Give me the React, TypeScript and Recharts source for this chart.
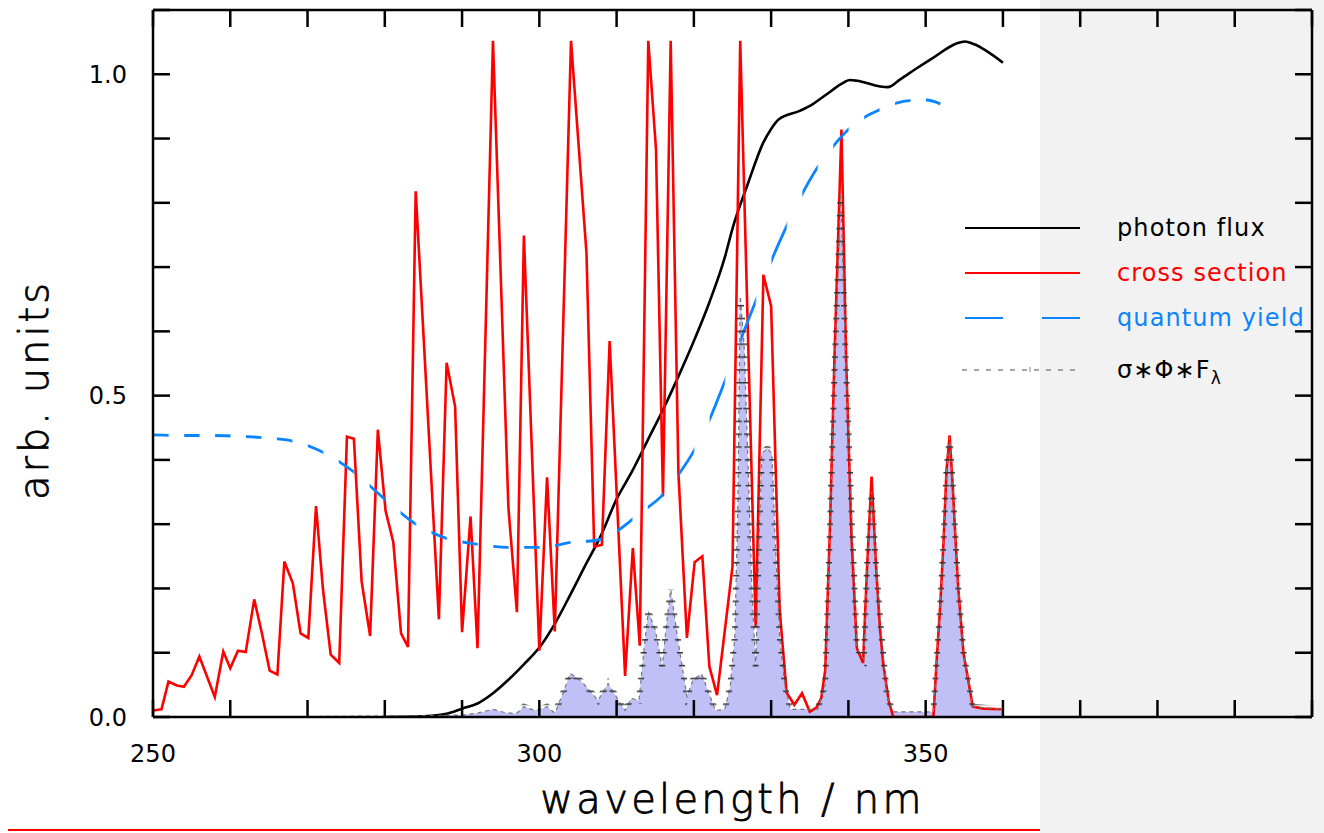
import React from 'react';
import {
  ComposedChart,
  Line,
  Area,
  XAxis,
  YAxis,
  Legend,
  Label,
} from 'recharts';

// photon flux (black)
const FLUX_NM = [280, 285, 287, 288, 290, 292, 294, 296, 298, 300, 302, 304, 306, 308, 310, 312, 314, 316, 318, 320, 322, 324, 325, 327, 329, 330, 331, 333.7, 335.2, 337.2, 339.1, 340.2, 341.1, 344.1, 345.1, 346.7, 348.8, 351, 354, 355.1, 356.2, 360];
const FLUX = [0, 0.001, 0.003, 0.005, 0.013, 0.021, 0.037, 0.058, 0.082, 0.108, 0.145, 0.19, 0.237, 0.283, 0.339, 0.382, 0.43, 0.478, 0.53, 0.585, 0.645, 0.715, 0.76, 0.83, 0.894, 0.915, 0.93, 0.943, 0.952, 0.969, 0.985, 0.991, 0.99, 0.981, 0.98, 0.992, 1.009, 1.026, 1.048, 1.051, 1.047, 1.018];

// cross section (red)
const CROSS_NM = [250, 251.1, 252, 253.1, 254, 255, 256, 258, 259.1, 260, 261, 262, 263.1, 264.1, 265.1, 266.1, 267, 268.1, 269.1, 270.1, 271.1, 272, 273, 274.1, 275.1, 276, 277, 278.1, 279.1, 280.1, 281.1, 282.1, 283, 284, 287, 288, 289.1, 290, 291.1, 292, 294, 296, 297.1, 298, 300, 301, 302, 304.1, 306.1, 307.1, 308.1, 309.1, 311.1, 312.1, 313, 314.1, 315.1, 316, 317, 318, 319.1, 320.1, 321.1, 322, 323, 325, 326, 328, 329, 330, 331.1, 332, 333, 334, 335, 335.9, 336.5, 337, 337.6, 338.2, 339.1, 339.7, 340.4, 341.1, 341.9, 342.4, 343, 343.6, 344.1, 344.5, 345.2, 345.8, 351, 351.4, 351.9, 352.3, 352.7, 353.1, 353.5, 353.8, 354.2, 354.9, 355.5, 356.1, 357.5, 359.8];
const CROSS = [0.01, 0.012, 0.055, 0.049, 0.047, 0.065, 0.094, 0.031, 0.102, 0.076, 0.103, 0.101, 0.183, 0.13, 0.072, 0.066, 0.242, 0.208, 0.13, 0.123, 0.328, 0.198, 0.097, 0.084, 0.436, 0.433, 0.211, 0.126, 0.447, 0.321, 0.272, 0.13, 0.109, 0.818, 0.152, 0.551, 0.483, 0.132, 0.312, 0.107, 1.052, 0.325, 0.163, 0.749, 0.103, 0.373, 0.133, 1.052, 0.722, 0.265, 0.268, 0.585, 0.064, 0.263, 0.111, 1.052, 0.883, 0.343, 1.052, 0.38, 0.123, 0.241, 0.25, 0.079, 0.034, 0.234, 1.052, 0.139, 0.688, 0.639, 0.167, 0.038, 0.019, 0.037, 0.008, 0.015, 0.03, 0.073, 0.29, 0.56, 0.914, 0.56, 0.281, 0.107, 0.084, 0.229, 0.374, 0.23, 0.136, 0.084, 0.026, 0, 0, 0.084, 0.177, 0.27, 0.385, 0.438, 0.36, 0.291, 0.203, 0.099, 0.058, 0.016, 0.013, 0.012];

// quantum yield (blue, dashed)
const QY_NM = [250, 254, 258, 263.8, 268.2, 272, 275.9, 279.8, 283.9, 288, 291.9, 295.8, 300.1, 304.4, 307.4, 310, 313, 316, 318, 320.1, 322.1, 324, 326.4, 328.1, 330.1, 332.1, 334.2, 336.1, 338.1, 340, 342.2, 344.1, 346.2, 347.9, 350.1, 351.9];
const QY = [0.439, 0.438, 0.438, 0.435, 0.429, 0.412, 0.382, 0.341, 0.301, 0.278, 0.269, 0.264, 0.264, 0.272, 0.275, 0.289, 0.317, 0.346, 0.377, 0.416, 0.465, 0.522, 0.598, 0.65, 0.712, 0.766, 0.818, 0.857, 0.889, 0.914, 0.934, 0.945, 0.955, 0.959, 0.96, 0.954];

// sigma * phi * F (filled)
const SPF_NM = [262, 285, 290, 292, 294, 295.5, 297, 298, 299.5, 301, 302, 303, 304, 305, 306.1, 307.6, 308.9, 310.3, 311.1, 311.9, 312.9, 313.5, 314.1, 315, 315.9, 316.5, 317, 318, 319.1, 319.9, 321, 322.1, 322.8, 324, 324.7, 325.3, 325.7, 326, 326.5, 327, 327.5, 328, 328.5, 328.8, 329.5, 330.1, 330.5, 331.1, 331.8, 332.5, 336, 337, 337.6, 338.2, 339, 339.7, 340.5, 341.1, 342, 342.4, 343, 343.6, 344.3, 345, 345.8, 351, 351.4, 351.9, 352.3, 352.7, 353.1, 353.5, 353.8, 354.2, 354.9, 355.5, 356.1, 360];
const SPF = [0, 0.002, 0.003, 0.006, 0.012, 0.007, 0.005, 0.016, 0.01, 0.016, 0.006, 0.035, 0.068, 0.06, 0.047, 0.026, 0.052, 0.025, 0.01, 0.029, 0.026, 0.1, 0.164, 0.136, 0.078, 0.15, 0.198, 0.115, 0.032, 0.058, 0.067, 0.032, 0.01, 0.012, 0.047, 0.125, 0.334, 0.655, 0.58, 0.4, 0.2, 0.078, 0.3, 0.41, 0.418, 0.41, 0.281, 0.125, 0.047, 0.012, 0.012, 0.05, 0.29, 0.54, 0.815, 0.54, 0.29, 0.107, 0.09, 0.23, 0.35, 0.23, 0.125, 0.032, 0.008, 0.008, 0.084, 0.177, 0.27, 0.385, 0.435, 0.36, 0.291, 0.203, 0.099, 0.058, 0.016, 0.012];

const X_TICKS = [250, 260, 270, 280, 290, 300, 310, 320, 330, 340, 350, 360, 370, 380, 390, 400];
const X_LABELS = [250, 300, 350];
const Y_TICKS = [0, 0.1, 0.2, 0.3, 0.4, 0.5, 0.6, 0.7, 0.8, 0.9, 1.0, 1.1];
const Y_LABELS = [0, 0.5, 1.0];

const toPoints = (nm: number[], v: number[]) => nm.map((x, i) => ({ nm: x, v: v[i] }));
const fluxData = toPoints(FLUX_NM, FLUX);
const crossData = toPoints(CROSS_NM, CROSS);
const qyData = toPoints(QY_NM, QY);
const spfData = toPoints(SPF_NM, SPF);

const W = 1324;
const H = 833;
const LEFT = 153;
const RIGHT = 1312;
const TOP = 10;
const BOTTOM = 717;
const FONT = '"DejaVu Sans", sans-serif';
const TICK_LEN = 17;
const BLUE = '#0a85ff';
const RED = '#ff0000';

// dash period of the yield curve: 4 nm along x; marks on the product curve every 0.02 in y
const nmPx = (RIGHT - LEFT) / 150;
const yPx = (BOTTOM - TOP) / 1.1;
const markStep = 0.02 * yPx;
const markOffset = BOTTOM - Math.floor((BOTTOM - TOP) / markStep) * markStep - 0.75;

const BottomTick = (props: any) => {
  const { x, y, payload } = props;
  return (
    <g>
      <line x1={x} x2={x} y1={y} y2={y - TICK_LEN} stroke="#000" strokeWidth={2.5} />
      {X_LABELS.includes(payload.value) && (
        <text x={x} y={y + 45} textAnchor="middle" fontSize={24} fontFamily={FONT} fill="#000">
          {payload.value}
        </text>
      )}
    </g>
  );
};

const TopTick = (props: any) => {
  const { x, y } = props;
  return <line x1={x} x2={x} y1={y} y2={y + TICK_LEN} stroke="#000" strokeWidth={2.5} />;
};

const LeftTick = (props: any) => {
  const { x, y, payload } = props;
  return (
    <g>
      <line x1={x} x2={x + TICK_LEN} y1={y} y2={y} stroke="#000" strokeWidth={2.5} />
      {Y_LABELS.includes(payload.value) && (
        <text x={x - 26} y={y} dy="0.36em" textAnchor="end" fontSize={24} fontFamily={FONT} fill="#000">
          {payload.value.toFixed(1)}
        </text>
      )}
    </g>
  );
};

const RightTick = (props: any) => {
  const { x, y } = props;
  return <line x1={x} x2={x - TICK_LEN} y1={y} y2={y} stroke="#000" strokeWidth={2.5} />;
};

const LegendBox = () => {
  const x0 = 965;
  const x1 = 1080;
  const tx = 1117;
  const rows = [228, 273, 318, 370];
  const txt = { fontSize: 24, fontFamily: FONT, letterSpacing: 1.1 };
  return (
    <svg width={W} height={H} style={{ overflow: 'visible' }}>
      <line x1={x0} x2={x1} y1={rows[0]} y2={rows[0]} stroke="#000" strokeWidth={2.2} />
      <text x={tx} y={rows[0] + 8} fill="#000" {...txt}>photon flux</text>
      <line x1={x0} x2={x1} y1={rows[1]} y2={rows[1]} stroke={RED} strokeWidth={2.2} />
      <text x={tx} y={rows[1] + 8} fill={RED} {...txt}>cross section</text>
      <line x1={x0} x2={x1} y1={rows[2]} y2={rows[2]} stroke={BLUE} strokeWidth={2.2} strokeDasharray="38 39" />
      <text x={tx} y={rows[2] + 8} fill={BLUE} {...txt}>quantum yield</text>
      <line x1={x0 - 3} x2={x1 - 5} y1={rows[3]} y2={rows[3]} stroke="#888" strokeWidth={1.5} strokeDasharray="5 7" />
      <line x1={1030} x2={1030} y1={rows[3] - 3} y2={rows[3] + 2} stroke="#888" strokeWidth={1} />
      <text x={tx} y={rows[3] + 8} fill="#000" {...txt}>
        σ∗Φ∗F<tspan fontSize={17} dy={6}>λ</tspan>
      </text>
    </svg>
  );
};

const XTitle = () => (
  <text x={(LEFT + RIGHT) / 2} y={813} textAnchor="middle" fontSize={40} fontWeight={200} letterSpacing={3.3} fontFamily={FONT} fill="#000" stroke="#000" strokeWidth={0.8}>
    wavelength / nm
  </text>
);

const YTitle = () => (
  <text x={48} y={390} transform="rotate(-90, 48, 390)" textAnchor="middle" fontSize={40} fontWeight={200} letterSpacing={3} fontFamily={FONT} fill="#000" stroke="#000" strokeWidth={0.8}>
    arb. units
  </text>
);

const axisLine = { stroke: '#000', strokeWidth: 2.5 };

export default function App() {
  return (
    <div style={{ position: 'fixed', left: 0, top: 0, width: W, height: H, background: '#fff', overflow: 'hidden' }}>
      <style>{`.qy-line { mask: url(#qyMask); } .spf-marks { mask: url(#spfMask); }`}</style>
      <svg width={0} height={0} style={{ position: 'absolute' }}>
        <defs>
          <pattern id="qyDash" patternUnits="userSpaceOnUse" x={LEFT + 0.3} y={0} width={4 * nmPx} height={H}>
            <rect x={0} y={0} width={2 * nmPx} height={H} fill="#fff" />
          </pattern>
          <mask id="qyMask" maskUnits="userSpaceOnUse" x={0} y={0} width={W} height={H}>
            <rect x={0} y={0} width={W} height={H} fill="url(#qyDash)" />
          </mask>
          <pattern id="spfStripe" patternUnits="userSpaceOnUse" x={0} y={markOffset} width={W} height={markStep}>
            <rect x={0} y={0} width={W} height={1.5} fill="#fff" />
          </pattern>
          <mask id="spfMask" maskUnits="userSpaceOnUse" x={0} y={0} width={W} height={H}>
            <rect x={0} y={0} width={W} height={H} fill="url(#spfStripe)" />
          </mask>
        </defs>
      </svg>
      <div style={{ position: 'absolute', left: 8, top: 829, width: W - 8, height: 2, background: RED }} />
      <div style={{ position: 'absolute', left: 1040, top: 0, width: W - 1040, height: H, background: '#f2f2f2' }} />
      <div style={{ position: 'absolute', left: 0, top: 0 }}>
        <ComposedChart width={W} height={H} margin={{ top: 0, right: 0, bottom: 0, left: 0 }}>
          <XAxis
            xAxisId="b"
            dataKey="nm"
            type="number"
            domain={[250, 400]}
            ticks={X_TICKS}
            interval={0}
            allowDataOverflow
            height={H - BOTTOM}
            tickSize={0}
            tickMargin={0}
            tick={<BottomTick />}
            axisLine={axisLine}
          >
            <Label content={<XTitle />} />
          </XAxis>
          <XAxis
            xAxisId="t"
            orientation="top"
            dataKey="nm"
            type="number"
            domain={[250, 400]}
            ticks={X_TICKS}
            interval={0}
            allowDataOverflow
            height={TOP}
            tickSize={0}
            tickMargin={0}
            tick={<TopTick />}
            axisLine={axisLine}
          />
          <YAxis
            yAxisId="l"
            type="number"
            domain={[0, 1.1]}
            ticks={Y_TICKS}
            interval={0}
            allowDataOverflow
            width={LEFT}
            tickSize={0}
            tickMargin={0}
            tick={<LeftTick />}
            axisLine={axisLine}
          >
            <Label content={<YTitle />} />
          </YAxis>
          <YAxis
            yAxisId="r"
            orientation="right"
            type="number"
            domain={[0, 1.1]}
            ticks={Y_TICKS}
            interval={0}
            allowDataOverflow
            width={W - RIGHT}
            tickSize={0}
            tickMargin={0}
            tick={<RightTick />}
            axisLine={axisLine}
          />
          <Area
            xAxisId="b"
            yAxisId="l"
            data={spfData}
            dataKey="v"
            type="linear"
            fill="#c0c0f7"
            fillOpacity={1}
            stroke="none"
            isAnimationActive={false}
            legendType="none"
          />
          <Line
            xAxisId="b"
            yAxisId="l"
            data={fluxData}
            dataKey="v"
            name="photon flux"
            type="monotone"
            stroke="#000"
            strokeWidth={2.6}
            dot={false}
            isAnimationActive={false}
          />
          <Line
            xAxisId="b"
            yAxisId="l"
            data={crossData}
            dataKey="v"
            name="cross section"
            type="linear"
            stroke={RED}
            strokeWidth={2.6}
            dot={false}
            isAnimationActive={false}
          />
          <Line
            xAxisId="b"
            yAxisId="l"
            data={qyData}
            dataKey="v"
            name="quantum yield"
            type="monotone"
            stroke={BLUE}
            strokeWidth={2.8}
            dot={false}
            className="qy-line"
            isAnimationActive={false}
          />
          <Line
            xAxisId="b"
            yAxisId="l"
            data={spfData}
            dataKey="v"
            type="linear"
            stroke="#777"
            strokeWidth={1.2}
            strokeDasharray="4 4"
            dot={false}
            isAnimationActive={false}
            legendType="none"
          />
          <Line
            xAxisId="b"
            yAxisId="l"
            data={spfData}
            dataKey="v"
            type="linear"
            stroke="#333"
            strokeWidth={6}
            dot={false}
            className="spf-marks"
            isAnimationActive={false}
            legendType="none"
          />
          <Legend
            layout="horizontal"
            verticalAlign="middle"
            align="center"
            content={<LegendBox />}
            wrapperStyle={{ left: 0, top: 0, width: W, height: H, pointerEvents: 'none' }}
          />
        </ComposedChart>
      </div>
    </div>
  );
}
